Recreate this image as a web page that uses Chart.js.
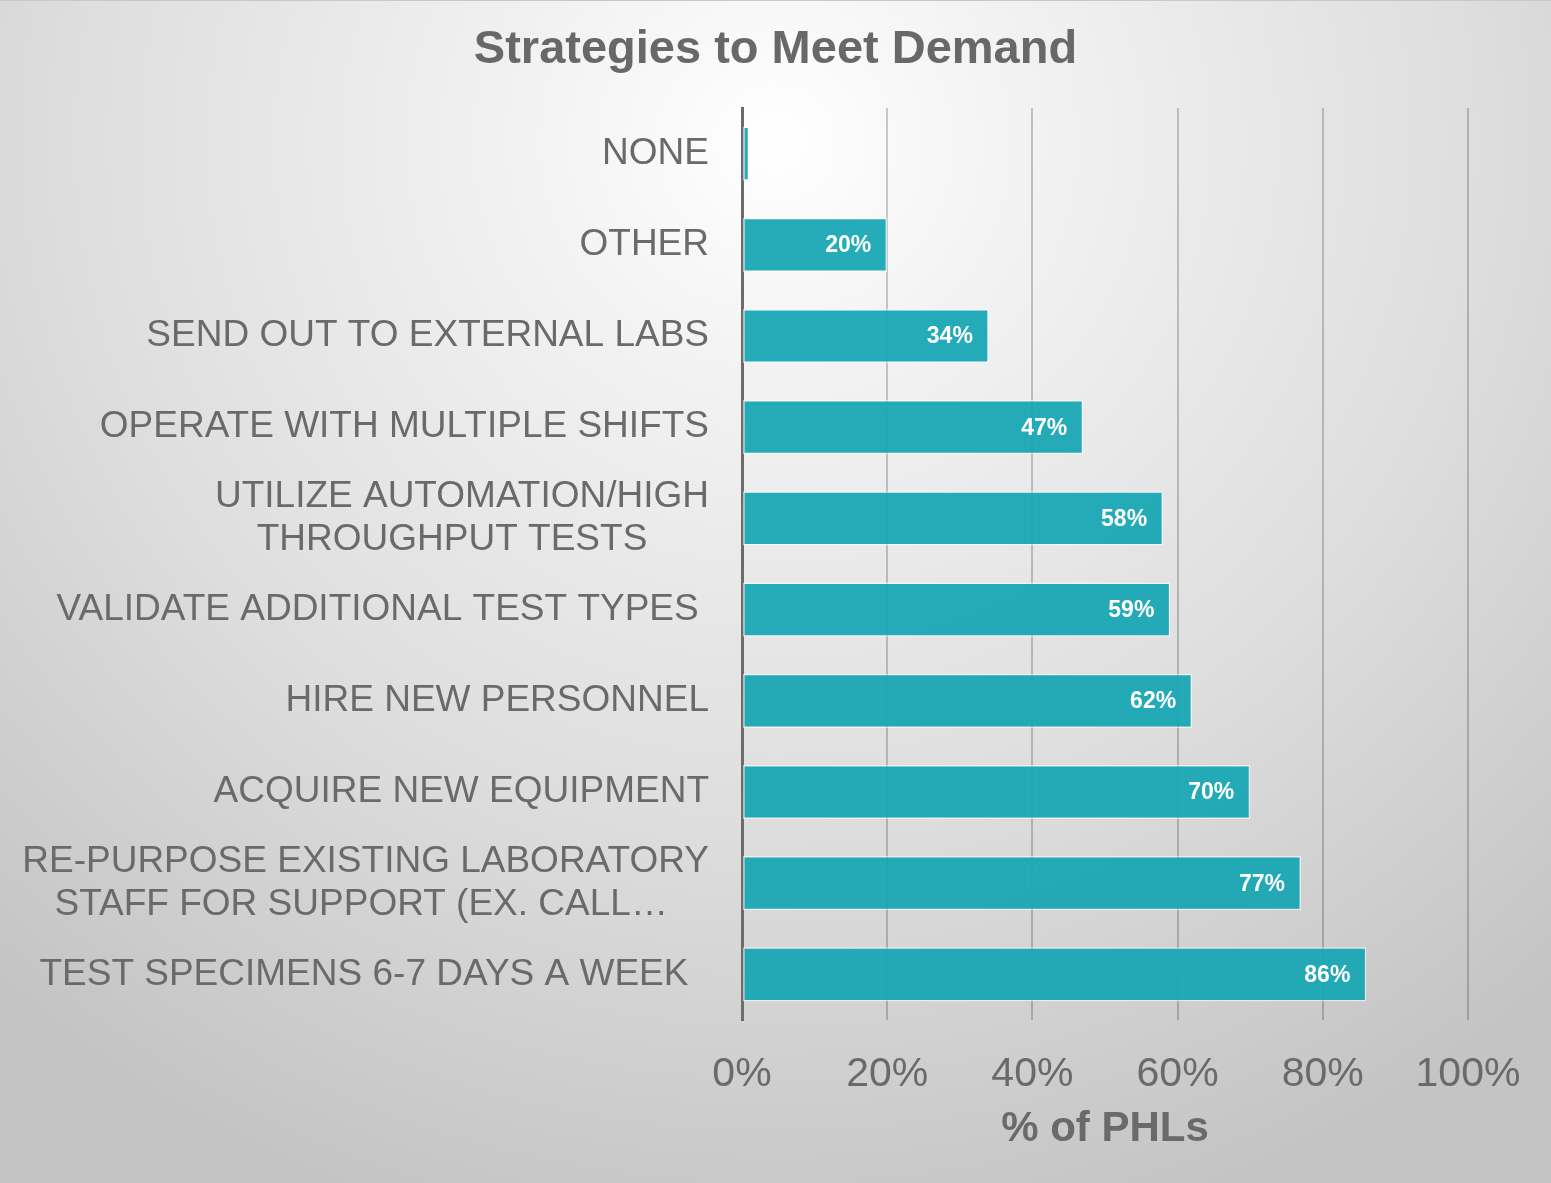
<!DOCTYPE html>
<html lang="en">
<head>
  <meta charset="UTF-8">
  <title>Strategies to Meet Demand</title>
  <script src="https://cdn.jsdelivr.net/npm/chart.js@4"></script>
  <style>
    html, body {
      margin: 0;
      padding: 0;
      width: 1551px;
      height: 1183px;
      overflow: hidden;
    }
    body {
      background: radial-gradient(ellipse 75% 95% at 50% 12%, #ffffff 0%, #f3f3f3 20%, #dedede 60%, #c4c4c4 100%);
      box-shadow: inset 0 1px 0 #c8c8c8;
    }
    canvas {
      display: block;
    }
  </style>
</head>
<body>
  <canvas id="chart" width="1551" height="1183"></canvas>

  <script>
    // categories, top to bottom (trailing spaces mimic the original label alignment)
    const categories = [
      'NONE',
      'OTHER',
      'SEND OUT TO EXTERNAL LABS',
      'OPERATE WITH MULTIPLE SHIFTS',
      ['UTILIZE AUTOMATION/HIGH', 'THROUGHPUT TESTS      '],
      'VALIDATE ADDITIONAL TEST TYPES ',
      'HIRE NEW PERSONNEL',
      'ACQUIRE NEW EQUIPMENT',
      ['RE-PURPOSE EXISTING LABORATORY', 'STAFF FOR SUPPORT (EX. CALL…    '],
      'TEST SPECIMENS 6-7 DAYS A WEEK  '
    ];
    const percentPHLs = [1, 20, 34, 47, 58, 59, 62, 70, 77, 86];
    const xTicks = [0, 20, 40, 60, 80, 100];

    const FONT = '"Liberation Sans", Arial, sans-serif';
    const GREY = '#6a6a6a';

    // chart title, centred on the whole canvas
    const pageTitle = {
      id: 'pageTitle',
      afterDraw(chart) {
        const ctx = chart.ctx;
        ctx.save();
        ctx.font = 'bold 47px ' + FONT;
        ctx.fillStyle = '#686868';
        ctx.textAlign = 'center';
        ctx.textBaseline = 'alphabetic';
        ctx.fillText('Strategies to Meet Demand', chart.width / 2, 63);
        ctx.restore();
      }
    };

    // white value labels at the inside end of each bar
    const valueLabels = {
      id: 'valueLabels',
      afterDatasetsDraw(chart) {
        const ctx = chart.ctx;
        const meta = chart.getDatasetMeta(0);
        ctx.save();
        ctx.font = 'bold 23px ' + FONT;
        ctx.fillStyle = '#ffffff';
        ctx.textBaseline = 'middle';
        meta.data.forEach((bar, i) => {
          const txt = percentPHLs[i] + '%';
          const w = ctx.measureText(txt).width;
          if (bar.x - bar.base < w + 30) {
            ctx.textAlign = 'left';
            ctx.fillText(txt, bar.x + 12, bar.y + 1);
          } else {
            ctx.textAlign = 'right';
            ctx.fillText(txt, bar.x - 16, bar.y + 1);
          }
        });
        ctx.restore();
      }
    };

    new Chart(document.getElementById('chart'), {
      type: 'bar',
      data: {
        labels: categories,
        datasets: [{
          label: '% of PHLs',
          data: percentPHLs,
          backgroundColor: 'rgba(22, 166, 180, 0.93)',
          borderColor: 'rgba(255, 255, 255, 0.55)',
          borderWidth: 1.5,
          borderSkipped: false,
          barPercentage: 0.9,
          categoryPercentage: 0.66
        }]
      },
      options: {
        indexAxis: 'y',
        responsive: false,
        animation: false,
        devicePixelRatio: 1,
        layout: {
          padding: { left: 0, right: 83, top: 108, bottom: 20 }
        },
        plugins: {
          legend: { display: false },
          tooltip: { enabled: false },
          title: { display: false }
        },
        scales: {
          x: {
            min: 0,
            max: 100,
            afterBuildTicks(scale) {
              scale.ticks = xTicks.map(v => ({ value: v }));
            },
            afterFit(scale) {
              scale.height = 143;
            },
            grid: {
              display: true,
              color: 'rgba(0, 0, 0, 0.2)',
              lineWidth: 2,
              drawTicks: false
            },
            border: { display: false },
            ticks: {
              color: GREY,
              padding: 30,
              font: { family: FONT, size: 41 },
              callback: v => v + '%'
            },
            title: {
              display: true,
              text: '% of PHLs',
              color: GREY,
              font: { family: FONT, size: 42, weight: 'bold' },
              padding: { top: 4, bottom: 8 }
            }
          },
          y: {
            afterFit(scale) {
              scale.width = 742;
            },
            grid: { display: false, drawTicks: false },
            border: { display: true, color: '#6c6c6c', width: 3 },
            ticks: {
              color: GREY,
              padding: 33,
              autoSkip: false,
              font: { family: FONT, size: 37, lineHeight: 1.17 }
            }
          }
        }
      },
      plugins: [valueLabels, pageTitle]
    });
  </script>
</body>
</html>
